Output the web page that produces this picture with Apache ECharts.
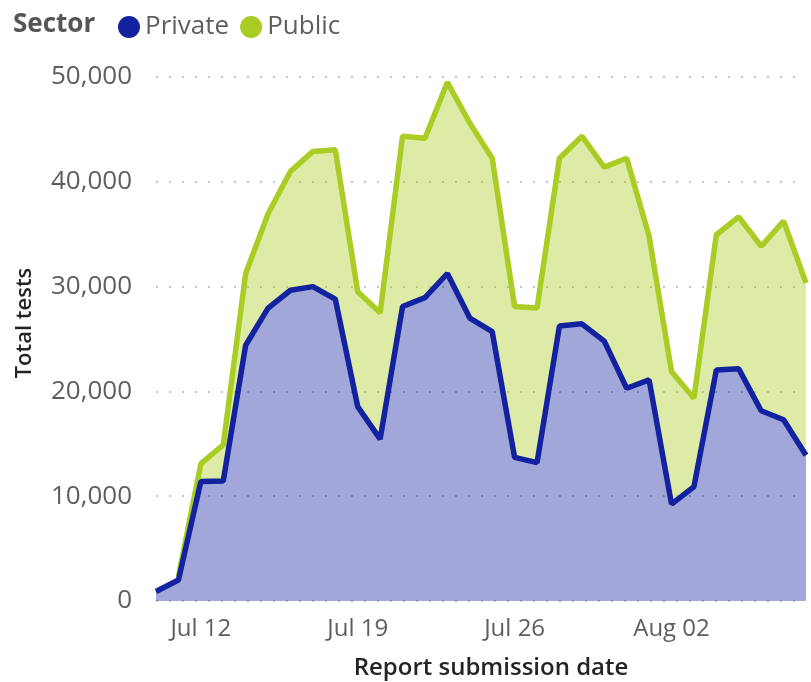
<!DOCTYPE html>
<html>
<head>
<meta charset="utf-8">
<script src="https://cdn.jsdelivr.net/npm/echarts@6/dist/echarts.min.js"></script>
<style>
html,body{margin:0;padding:0;background:#fff;}
#chart{width:811px;height:682px;}
</style>
</head>
<body>
<div id="chart"></div>
<script>
const dates = ['Jul 10','Jul 11','Jul 12','Jul 13','Jul 14','Jul 15','Jul 16','Jul 17','Jul 18','Jul 19',
  'Jul 20','Jul 21','Jul 22','Jul 23','Jul 24','Jul 25','Jul 26','Jul 27','Jul 28','Jul 29',
  'Jul 30','Jul 31','Aug 01','Aug 02','Aug 03','Aug 04','Aug 05','Aug 06','Aug 07','Aug 08'];
const privateTests = [900, 2000, 11400, 11450, 24400, 27950, 29650, 30000, 28800, 18550,
  15450, 28100, 28950, 31250, 27000, 25700, 13700, 13200, 26250, 26450,
  24800, 20300, 21100, 9250, 10900, 22050, 22150, 18150, 17300, 13900];
const publicTests = [null, 300, 1700, 3450, 6850, 9000, 11350, 12900, 14250, 10950,
  12050, 16250, 15200, 18250, 18600, 16550, 14400, 14750, 16000, 17900,
  16600, 21950, 13700, 12650, 8450, 12900, 14500, 15700, 18950, 16450];
const yTicks = {min: 0, max: 50000, interval: 10000};

const privateColor = '#13239F';
const publicColor = '#A9CD24';
const gray = '#605E5C';
const font = 'Open Sans';

const chart = echarts.init(document.getElementById('chart'));
chart.setOption({
  animation: false,
  textStyle: {fontFamily: font},
  title: {
    text: 'Sector', left: 8, top: 7,
    textStyle: {fontFamily: font, fontSize: 26, fontWeight: 'bold', color: '#555555'}
  },
  legend: {
    left: 113, top: 9,
    icon: 'circle', itemWidth: 22, itemHeight: 22, itemGap: 11,
    textStyle: {fontFamily: font, fontSize: 26, color: gray, padding: [0,0,0,0]},
    data: ['Private', 'Public']
  },
  grid: {left: 156, right: 5, top: 77, bottom: 81, containLabel: false, outerBoundsMode: 'none'},
  xAxis: {
    type: 'category', data: dates, boundaryGap: false,
    axisLine: {show: false}, axisTick: {show: false},
    axisLabel: {
      interval: function (i) { return i % 7 === 2; },
      fontSize: 24, color: gray, margin: 16, fontFamily: font
    },
    name: 'Report submission date', nameLocation: 'middle', nameGap: 55, nameMoveOverlap: false,
    nameTextStyle: {fontSize: 24, color: '#252423', fontWeight: 600, fontFamily: font, padding: [0,0,0,20]}
  },
  yAxis: {
    type: 'value', min: yTicks.min, max: yTicks.max, interval: yTicks.interval,
    axisLine: {show: false}, axisTick: {show: false},
    axisLabel: {
      fontSize: 26, color: gray, margin: 24, fontFamily: font,
      formatter: v => v.toLocaleString('en-US')
    },
    splitLine: {show: true, lineStyle: {color: '#c4c4c4', width: 2, type: [2, 11]}},
    name: 'Total tests', nameLocation: 'middle', nameGap: 120, nameRotate: 90, nameMoveOverlap: false,
    nameTextStyle: {fontSize: 22, color: '#252423', fontWeight: 600, fontFamily: font, padding: [0,0,0,32]}
  },
  series: [
    {
      name: 'Private', type: 'line', stack: 'total', data: privateTests,
      showSymbol: false, symbol: 'none', color: privateColor,
      lineStyle: {width: 5.5, color: privateColor},
      areaStyle: {color: privateColor, opacity: 0.4}, z: 3
    },
    {
      name: 'Public', type: 'line', stack: 'total', data: publicTests,
      showSymbol: false, symbol: 'none', color: publicColor,
      lineStyle: {width: 5.5, color: publicColor},
      areaStyle: {color: publicColor, opacity: 0.4}, z: 2
    }
  ]
});
</script>
</body>
</html>
